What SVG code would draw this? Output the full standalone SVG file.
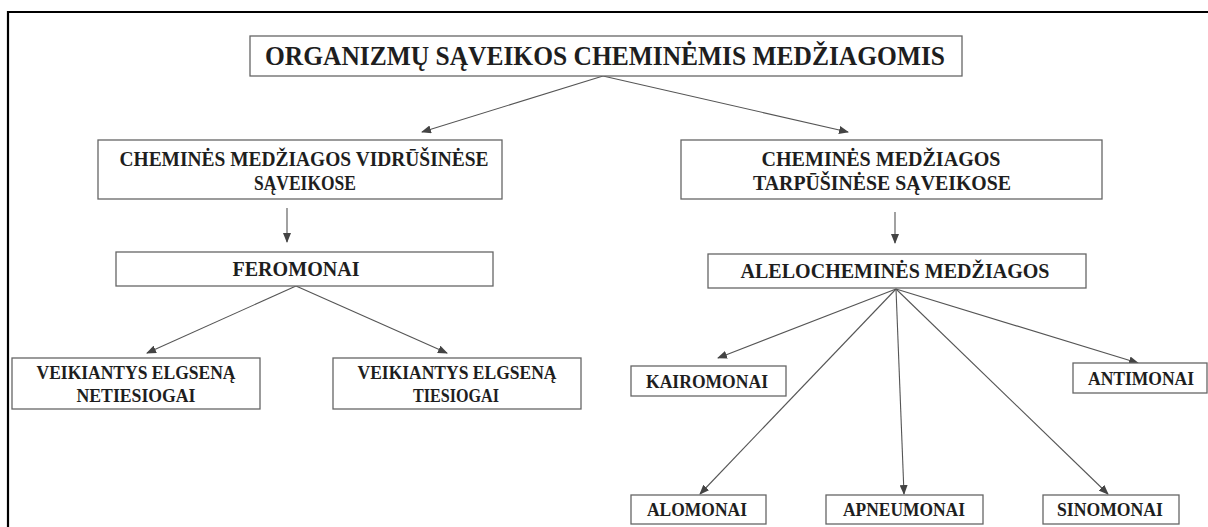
<svg xmlns="http://www.w3.org/2000/svg" width="1208" height="527" viewBox="0 0 1208 527">
<style>
.box{fill:#fff;stroke:#666;stroke-width:1.3}
.t{font-family:"Liberation Serif","Times New Roman",serif;font-weight:bold;fill:#1e1e1e;text-anchor:middle}
.c{stroke:#555;stroke-width:1.1;fill:none;marker-end:url(#ah)}
</style>
<defs>
<marker id="ah" markerUnits="userSpaceOnUse" markerWidth="10" markerHeight="8" refX="9" refY="4" orient="auto">
<path d="M0,0 L10,4 L0,8 Z" fill="#444"/>
</marker>
</defs>
<rect width="1208" height="527" fill="#fff"/>
<path d="M8,527 V12 H1208" fill="none" stroke="#000" stroke-width="2.2"/>
<g id="connectors">
<line class="c" x1="603" y1="76" x2="422" y2="132"/>
<line class="c" x1="603" y1="76" x2="848" y2="132"/>
<line class="c" x1="287" y1="208" x2="287" y2="242"/>
<line class="c" x1="895" y1="212" x2="895" y2="243"/>
<line class="c" x1="296" y1="286" x2="147" y2="353"/>
<line class="c" x1="296" y1="286" x2="447" y2="353"/>
<line class="c" x1="896" y1="289" x2="718" y2="358"/>
<line class="c" x1="896" y1="289" x2="700" y2="494"/>
<line class="c" x1="896" y1="289" x2="904" y2="494"/>
<line class="c" x1="896" y1="289" x2="1108" y2="494"/>
<line class="c" x1="896" y1="289" x2="1138" y2="363"/>
</g>
<g id="root">
<rect class="box" x="250" y="36" width="712" height="40"/>
<text class="t" x="605" y="65" font-size="27" textLength="680" lengthAdjust="spacingAndGlyphs">ORGANIZMŲ SĄVEIKOS CHEMINĖMIS MEDŽIAGOMIS</text>
</g>
<g id="vidrusinese">
<rect class="box" x="98" y="140" width="404" height="59"/>
<text class="t" x="304" y="166" font-size="21" textLength="369" lengthAdjust="spacingAndGlyphs">CHEMINĖS MEDŽIAGOS VIDRŪŠINĖSE</text>
<text class="t" x="305" y="190" font-size="21" textLength="102" lengthAdjust="spacingAndGlyphs">SĄVEIKOSE</text>
</g>
<g id="tarpusinese">
<rect class="box" x="681" y="140" width="421" height="59"/>
<text class="t" x="881" y="166" font-size="21" textLength="239" lengthAdjust="spacingAndGlyphs">CHEMINĖS MEDŽIAGOS</text>
<text class="t" x="882" y="190" font-size="21" textLength="258" lengthAdjust="spacingAndGlyphs">TARPŪŠINĖSE SĄVEIKOSE</text>
</g>
<g id="feromonai">
<rect class="box" x="116" y="252" width="377" height="34"/>
<text class="t" x="296" y="276" font-size="20" textLength="127" lengthAdjust="spacingAndGlyphs">FEROMONAI</text>
</g>
<g id="alelochemines">
<rect class="box" x="708" y="254" width="378" height="34"/>
<text class="t" x="895" y="278" font-size="21" textLength="309" lengthAdjust="spacingAndGlyphs">ALELOCHEMINĖS MEDŽIAGOS</text>
</g>
<g id="netiesiogai">
<rect class="box" x="12" y="358" width="248" height="51"/>
<text class="t" x="136" y="379" font-size="18" textLength="199" lengthAdjust="spacingAndGlyphs">VEIKIANTYS ELGSENĄ</text>
<text class="t" x="136" y="402" font-size="18" textLength="119" lengthAdjust="spacingAndGlyphs">NETIESIOGAI</text>
</g>
<g id="tiesiogai">
<rect class="box" x="333" y="358" width="248" height="51"/>
<text class="t" x="457" y="379" font-size="18" textLength="199" lengthAdjust="spacingAndGlyphs">VEIKIANTYS ELGSENĄ</text>
<text class="t" x="456" y="402" font-size="18" textLength="86" lengthAdjust="spacingAndGlyphs">TIESIOGAI</text>
</g>
<g id="kairomonai">
<rect class="box" x="631" y="366" width="155" height="30"/>
<text class="t" x="707" y="388" font-size="18" textLength="122" lengthAdjust="spacingAndGlyphs">KAIROMONAI</text>
</g>
<g id="antimonai">
<rect class="box" x="1073" y="363" width="134" height="30"/>
<text class="t" x="1141" y="385" font-size="18" textLength="106" lengthAdjust="spacingAndGlyphs">ANTIMONAI</text>
</g>
<g id="alomonai">
<rect class="box" x="631" y="495" width="135" height="29"/>
<text class="t" x="697" y="516" font-size="18" textLength="100" lengthAdjust="spacingAndGlyphs">ALOMONAI</text>
</g>
<g id="apneumonai">
<rect class="box" x="826" y="495" width="157" height="29"/>
<text class="t" x="904" y="516" font-size="18" textLength="122" lengthAdjust="spacingAndGlyphs">APNEUMONAI</text>
</g>
<g id="sinomonai">
<rect class="box" x="1043" y="495" width="136" height="29"/>
<text class="t" x="1110" y="516" font-size="18" textLength="106" lengthAdjust="spacingAndGlyphs">SINOMONAI</text>
</g>
</svg>
